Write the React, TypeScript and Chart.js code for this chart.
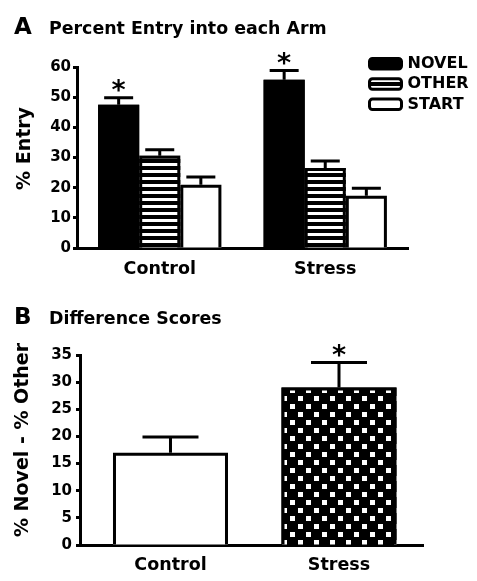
import React, { useEffect, useRef } from "react";
import { Chart, registerables } from "chart.js";
Chart.register(...registerables);

// ---- Panel A data ----
const groups = ["Control", "Stress"];
const armLabels = ["NOVEL", "OTHER", "START"];
const novelEntry = [47.5, 55.8];
const novelErr = [2.3, 3.0];
const novelSig = [true, true];
const otherEntry = [30.6, 26.5];
const otherErr = [2.0, 2.3];
const otherSig = [false, false];
const startEntry = [21.0, 17.3];
const startErr = [2.5, 2.5];
const startSig = [false, false];
const entryMax = 60;
const entryStep = 10;

// ---- Panel B data ----
const diffGroups = ["Control", "Stress"];
const diffScore = [17.0, 29.0];
const diffErr = [2.9, 4.6];
const diffSig = [false, true];
const diffMax = 35;
const diffStep = 5;

const FAM = "'DejaVu Sans', 'Liberation Sans', sans-serif";

function stripePattern(): CanvasPattern | string {
  const c = document.createElement("canvas");
  c.width = 8;
  c.height = 7;
  const x = c.getContext("2d")!;
  x.fillStyle = "#000";
  x.fillRect(0, 0, 8, 7);
  x.fillStyle = "#fff";
  x.fillRect(0, 2, 8, 3);
  return x.createPattern(c, "repeat") || "#000";
}

function checkerPattern(): CanvasPattern | string {
  const c = document.createElement("canvas");
  c.width = 16;
  c.height = 16;
  const x = c.getContext("2d")!;
  x.fillStyle = "#000";
  x.fillRect(0, 0, 16, 16);
  x.fillStyle = "#fff";
  x.fillRect(2, 2, 5, 5);
  x.fillRect(10, 10, 5, 5);
  return x.createPattern(c, "repeat") || "#000";
}

function valueOf(d: any): number {
  return typeof d === "object" && d !== null ? d.y : d;
}

function makeDecor(opts: {
  letter: string;
  title: string;
  yTitle: string;
  yTitleX: number;
  yTitleY: number;
  capW: number;
  legend: boolean;
}) {
  return {
    id: "decor" + opts.letter,
    afterDatasetsDraw(chart: any) {
      const ctx: CanvasRenderingContext2D = chart.ctx;
      const yScale = chart.scales.y;
      ctx.save();
      // bar outlines (left, top, right)
      chart.data.datasets.forEach((ds: any, di: number) => {
        const meta = chart.getDatasetMeta(di);
        meta.data.forEach((el: any) => {
          const l = el.x - el.width / 2;
          const r = el.x + el.width / 2;
          ctx.strokeStyle = "#000";
          ctx.lineWidth = 3;
          ctx.lineJoin = "miter";
          ctx.beginPath();
          ctx.moveTo(l + 1.5, el.base);
          ctx.lineTo(l + 1.5, el.y + 1.5);
          ctx.lineTo(r - 1.5, el.y + 1.5);
          ctx.lineTo(r - 1.5, el.base);
          ctx.stroke();
        });
      });
      chart.data.datasets.forEach((ds: any, di: number) => {
        const meta = chart.getDatasetMeta(di);
        meta.data.forEach((el: any, i: number) => {
          const v = valueOf(ds.data[i]);
          const e = ds.errors[i];
          const yTop = el.y;
          const yErr = yScale.getPixelForValue(v + e);
          ctx.strokeStyle = "#000";
          ctx.lineWidth = 3;
          ctx.lineCap = "butt";
          ctx.beginPath();
          ctx.moveTo(el.x, yTop);
          ctx.lineTo(el.x, yErr);
          ctx.moveTo(el.x - opts.capW / 2, yErr);
          ctx.lineTo(el.x + opts.capW / 2, yErr);
          ctx.stroke();
          if (ds.sig[i]) {
            ctx.fillStyle = "#000";
            ctx.font = `bold 27px ${FAM}`;
            ctx.textAlign = "center";
            ctx.textBaseline = "alphabetic";
            const m = ctx.measureText("*");
            const cy = yErr - 12;
            const base = cy + (m.actualBoundingBoxAscent - m.actualBoundingBoxDescent) / 2;
            ctx.fillText("*", el.x, base);
          }
        });
      });
      ctx.restore();
    },
    afterDraw(chart: any) {
      const ctx: CanvasRenderingContext2D = chart.ctx;
      ctx.save();
      ctx.fillStyle = "#000";
      ctx.textAlign = "left";
      ctx.textBaseline = "alphabetic";
      ctx.font = `bold 23px ${FAM}`;
      ctx.fillText(opts.letter, 14, 33.5);
      ctx.font = `bold 17.4px ${FAM}`;
      ctx.fillText(opts.title, 49, 33.5);
      // y title
      ctx.save();
      ctx.translate(opts.yTitleX, opts.yTitleY);
      ctx.rotate(-Math.PI / 2);
      ctx.textAlign = "center";
      ctx.textBaseline = "middle";
      ctx.font = `bold 19px ${FAM}`;
      ctx.fillText(opts.yTitle, 0, 0);
      ctx.restore();
      if (opts.legend) {
        chart.data.datasets.forEach((ds: any, di: number) => {
          const bx = 369.5;
          const by = 58.5 + di * 20.3;
          ctx.beginPath();
          (ctx as any).roundRect(bx, by, 32, 10.5, 3);
          ctx.fillStyle = ds.backgroundColor;
          ctx.fill();
          ctx.lineWidth = 3;
          ctx.strokeStyle = "#000";
          ctx.stroke();
          ctx.fillStyle = "#000";
          ctx.font = `bold 16px ${FAM}`;
          ctx.textAlign = "left";
          ctx.textBaseline = "middle";
          ctx.fillText(ds.label, 407.5, by + 5.5);
        });
      }
      ctx.restore();
    },
  };
}

function yScaleOpts(yMax: number, yStep: number, yWidth: number, yPad: number) {
  return {
    min: 0,
    max: yMax,
    afterFit: (s: any) => {
      s.width = yWidth;
    },
    grid: {
      display: true,
      drawOnChartArea: false,
      drawTicks: true,
      tickLength: 4,
      tickWidth: 3,
      tickColor: "#000",
    },
    border: { display: true, width: 3, color: "#000" },
    ticks: {
      stepSize: yStep,
      color: "#000",
      padding: yPad,
      font: { family: FAM, size: 15, weight: "bold" },
    },
  };
}

function xScaleBase(xHeight: number, xPad: number) {
  return {
    afterFit: (s: any) => {
      s.height = xHeight;
    },
    grid: { display: false },
    border: { display: true, width: 3, color: "#000" },
    ticks: {
      color: "#000",
      padding: xPad,
      font: { family: FAM, size: 17.5, weight: "bold" },
    },
  };
}

export default function App() {
  const refA = useRef<HTMLCanvasElement>(null);
  const refB = useRef<HTMLCanvasElement>(null);

  useEffect(() => {
    const stripes = stripePattern();
    const checker = checkerPattern();

    const chartA = new Chart(refA.current!, {
      type: "bar",
      data: {
        labels: groups,
        datasets: [
          { label: armLabels[0], data: novelEntry, errors: novelErr, sig: novelSig, backgroundColor: "#000", borderWidth: 0 } as any,
          { label: armLabels[1], data: otherEntry, errors: otherErr, sig: otherSig, backgroundColor: stripes, borderWidth: 0 } as any,
          { label: armLabels[2], data: startEntry, errors: startErr, sig: startSig, backgroundColor: "#fff", borderWidth: 0 } as any,
        ],
      },
      options: {
        animation: false,
        responsive: false,
        devicePixelRatio: 1,
        layout: { padding: { left: 0, right: 69, top: 67, bottom: 0 } },
        categoryPercentage: 0.745,
        barPercentage: 1,
        plugins: { legend: { display: false }, tooltip: { enabled: false } },
        scales: {
          x: xScaleBase(32, 2.5),
          y: yScaleOpts(entryMax, entryStep, 77, 2),
        } as any,
      } as any,
      plugins: [
        makeDecor({
          letter: "A",
          title: "Percent Entry into each Arm",
          yTitle: "% Entry",
          yTitleX: 25,
          yTitleY: 148.5,
          capW: 29,
          legend: true,
        }),
      ],
    });

    const xB: any = xScaleBase(36, 1.5);
    xB.type = "linear";
    xB.min = -0.537;
    xB.max = 1.4985;
    xB.offset = false;
    xB.afterBuildTicks = (s: any) => {
      s.ticks = diffGroups.map((_, i) => ({ value: i }));
    };
    xB.ticks.callback = (v: number) => diffGroups[Math.round(v)];

    const chartB = new Chart(refB.current!, {
      type: "bar",
      data: {
        datasets: [
          {
            label: "Difference",
            data: diffScore.map((y, i) => ({ x: i, y })),
            errors: diffErr,
            sig: diffSig,
            backgroundColor: ["#fff", checker],
            borderWidth: 0,
          } as any,
        ],
      },
      options: {
        animation: false,
        responsive: false,
        devicePixelRatio: 1,
        layout: { padding: { left: 0, right: 54, top: 65, bottom: 0 } },
        categoryPercentage: 0.6825,
        barPercentage: 1,
        plugins: { legend: { display: false }, tooltip: { enabled: false } },
        scales: {
          x: xB,
          y: yScaleOpts(diffMax, diffStep, 80, 4),
        } as any,
      } as any,
      plugins: [
        makeDecor({
          letter: "B",
          title: "Difference Scores",
          yTitle: "% Novel - % Other",
          yTitleX: 23,
          yTitleY: 150,
          capW: 56,
          legend: false,
        }),
      ],
    });

    return () => {
      chartA.destroy();
      chartB.destroy();
    };
  }, []);

  return (
    <div style={{ position: "absolute", left: 0, top: 0, width: 477, height: 581, background: "#fff" }}>
      <canvas ref={refA} width={477} height={280} style={{ position: "absolute", left: 0, top: 0, width: 477, height: 280 }} />
      <canvas ref={refB} width={477} height={291} style={{ position: "absolute", left: 0, top: 290, width: 477, height: 291 }} />
    </div>
  );
}
